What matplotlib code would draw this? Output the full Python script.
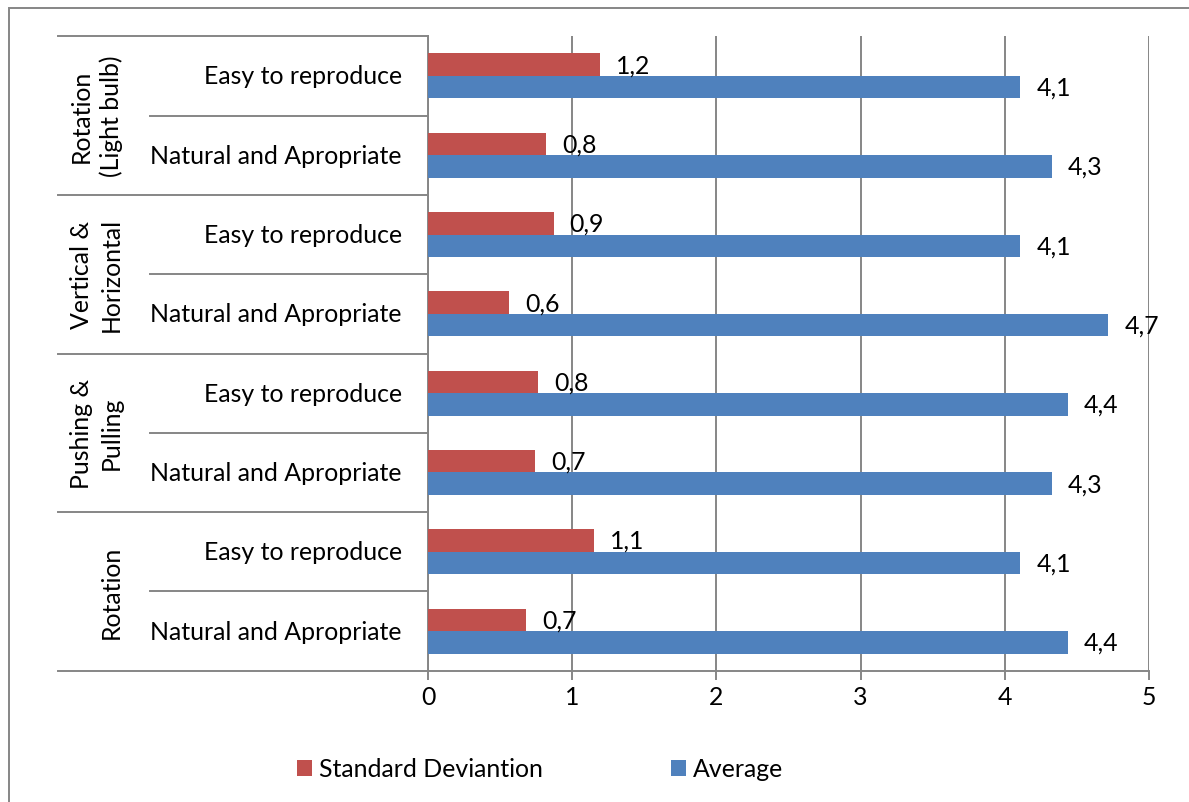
import matplotlib
matplotlib.use("Agg")
import matplotlib.pyplot as plt
from matplotlib.lines import Line2D
from matplotlib.patches import Rectangle, Patch
import numpy as np

plt.rcParams['font.family'] = ['Lato', 'DejaVu Sans']

# Rows listed from top to bottom
groups = ["Rotation\n(Light bulb)", "Vertical &\nHorizontal", "Pushing &\nPulling", "Rotation"]
criteria = ["Easy to reproduce", "Natural and Apropriate"]
std_dev = [1.19, 0.82, 0.87, 0.56, 0.76, 0.74, 1.15, 0.68]
average = [4.11, 4.33, 4.11, 4.72, 4.44, 4.33, 4.11, 4.44]
series_names = ["Standard Deviantion", "Average"]
x_ticks = [0, 1, 2, 3, 4, 5]

RED = "#C0504D"
BLUE = "#4F81BD"
GRID = "#868686"
FS = 17.9
LW = 1.4

W, H = 1189, 803
fig = plt.figure(figsize=(W / 100, H / 100), dpi=100)
ax = fig.add_axes([428.3 / W, 1 - 671.7 / H, (1148.7 - 428.3) / W, (671.7 - 37.3) / H])

n = len(std_dev)
rows = np.arange(n)
bar_h = 0.284

ax.barh(rows - bar_h / 2, std_dev, height=bar_h, color=RED, label=series_names[0], zorder=3)
ax.barh(rows + bar_h / 2, average, height=bar_h, color=BLUE, label=series_names[1], zorder=3)


def fmt(v):
    return f"{v:.1f}".replace(".", ",")


for r, v in zip(rows, std_dev):
    ax.annotate(fmt(v), (v, r - bar_h / 2), xytext=(11.5, 0), textcoords="offset points",
                ha="left", va="center", fontsize=FS, color="black", zorder=4,
                annotation_clip=False)
for r, v in zip(rows, average):
    ax.annotate(fmt(v), (v, r + bar_h / 2), xytext=(11.5, 0), textcoords="offset points",
                ha="left", va="center", fontsize=FS, color="black", zorder=4,
                annotation_clip=False)

ax.set_xlim(0, 5)
ax.set_ylim(n - 0.5, -0.5)
ax.set_xticks(x_ticks)
ax.set_xticklabels([str(t) for t in x_ticks], fontsize=FS)
ax.tick_params(axis="x", direction="out", length=6.5, width=LW, color=GRID, pad=4)
ax.set_yticks([])
ax.xaxis.grid(True, color=GRID, linewidth=LW, zorder=0)
ax.set_axisbelow(True)
for side in ("top", "right"):
    ax.spines[side].set_visible(False)
for side in ("left", "bottom"):
    ax.spines[side].set_color(GRID)
    ax.spines[side].set_linewidth(LW)

# Category labels and separators on the left of the axis
yt = ax.get_yaxis_transform()
ax_w = 1148.7 - 428.3
to_ax = lambda px: (px - 428.3) / ax_w

for i in range(n):
    ax.text(to_ax(402), i, criteria[i % 2], transform=yt, ha="right", va="center",
            fontsize=FS, clip_on=False)

for g, name in enumerate(groups):
    ax.text(to_ax(123), 2 * g + 0.5, name, transform=yt, rotation=90,
            ha="right", va="center", multialignment="center",
            fontsize=FS, clip_on=False, linespacing=1.35)

for b in np.arange(-0.5, n, 1.0):
    start = to_ax(58.3) if int(b + 0.5) % 2 == 0 else to_ax(150)
    ax.add_line(Line2D([start, 0], [b, b], transform=yt, color=GRID,
                       linewidth=LW, clip_on=False))

# Legend below the plot
handles = [Patch(facecolor=RED), Patch(facecolor=BLUE)]
fs_px = FS * 100 / 72
fig.legend(handles, series_names, loc="center", bbox_to_anchor=(540 / W, 1 - 770 / H),
           ncol=2, frameon=False, fontsize=FS, handlelength=15 / fs_px,
           handleheight=15 / fs_px, handletextpad=7 / fs_px,
           columnspacing=128 / fs_px, borderpad=0)

# Chart frame
fig.add_artist(Rectangle((9 / W, -0.1), 1.2, 1.1 - 8.5 / H, transform=fig.transFigure,
                         fill=False, edgecolor=GRID, linewidth=LW))

fig.savefig("out.png", dpi=100)
